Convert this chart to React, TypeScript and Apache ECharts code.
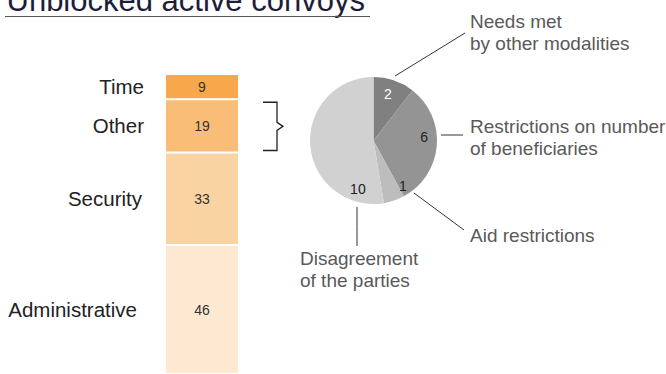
import React, { useEffect, useRef } from "react";
import * as echarts from "echarts";

// ---- data ----
const TITLE = "Unblocked active convoys";
const BAR_CATEGORIES = ["Time", "Other", "Security", "Administrative"];
const BAR_VALUES = [9, 19, 33, 46];
const PIE_NAMES = [
  "Needs met\nby other modalities",
  "Restrictions on number\nof beneficiaries",
  "Aid restrictions",
  "Disagreement\nof the parties",
];
const PIE_VALUES = [2, 6, 1, 10];

// ---- styles / layout ----
const FONT = '"Liberation Sans", Arial, Helvetica, sans-serif';
const BAR_COLORS = ["#f7a84a", "#f9bd78", "#fad3a3", "#fde9d2"];
const BAR_NAME_DISTANCE = [21, 21, 23, 28];
const PIE_COLORS = ["#808080", "#949494", "#bdbdbd", "#d1d1d1"];
const PIE_VALUE_COLORS = ["#ffffff", "#222222", "#222222", "#222222"];
const GRID = { left: 165, top: 74, width: 74, height: 300 };
const PIE_CENTER = [373.5, 140.5];
const PIE_R = 63.5;
const PIE_LABEL_POS = [
  { x: 470, y: 32, va: "middle", line: [[395, 76], [465, 33]] },
  { x: 470, y: 137, va: "middle", line: [[441, 135], [463, 135]] },
  { x: 470, y: 235, va: "middle", line: [[414, 193], [464, 230]] },
  { x: 300, y: 247, va: "top", line: [[357, 207], [357, 246]] },
];
const PIE_VALUE_OFFSETS = [[-3, 4], [-3, -8], [12, -5], [38, 44]];

export default function App() {
  const ref = useRef<HTMLDivElement>(null);

  useEffect(() => {
    if (!ref.current) return;
    const chart = echarts.init(ref.current, null, { renderer: "svg" });
    const total = BAR_VALUES.reduce((a, b) => a + b, 0);
    const order = [3, 2, 1, 0]; // bottom to top

    const valueSeries = order.map((i) => ({
      type: "bar",
      name: BAR_CATEGORIES[i],
      stack: "values",
      data: [BAR_VALUES[i]],
      barWidth: "100%",
      barGap: "-100%",
      silent: true,
      itemStyle: { color: BAR_COLORS[i], borderColor: "#ffffff", borderWidth: 1 },
      label: {
        show: true,
        position: "inside",
        color: "#333333",
        fontSize: 14,
        fontFamily: FONT,
      },
    }));
    const nameSeries = order.map((i) => ({
      type: "bar",
      name: BAR_CATEGORIES[i] + "-name",
      stack: "names",
      data: [BAR_VALUES[i]],
      barWidth: "100%",
      barGap: "-100%",
      silent: true,
      z: 1,
      itemStyle: { color: "rgba(0,0,0,0)" },
      label: {
        show: true,
        position: "left",
        distance: BAR_NAME_DISTANCE[i],
        formatter: BAR_CATEGORIES[i],
        color: "#222222",
        fontSize: 20.5,
        fontFamily: FONT,
      },
    }));

    const pieData = PIE_VALUES.map((v, i) => ({
      value: v,
      name: PIE_NAMES[i],
      itemStyle: { color: PIE_COLORS[i] },
    }));

    chart.setOption({
      animation: false,
      grid: { left: GRID.left, top: GRID.top, width: GRID.width, height: GRID.height },
      xAxis: { type: "category", data: ["convoys"], show: false },
      yAxis: { type: "value", min: 0, max: total, show: false },
      series: [
        ...nameSeries,
        ...valueSeries,
        {
          type: "pie",
          center: PIE_CENTER,
          radius: PIE_R,
          startAngle: 90,
          clockwise: true,
          avoidLabelOverlap: false,
          silent: true,
          data: pieData,
          itemStyle: { borderWidth: 0 },
          label: {
            show: true,
            position: "outside",
            formatter: "{b}",
            color: "#595959",
            fontSize: 19,
            lineHeight: 22,
            fontFamily: FONT,
          },
          labelLine: {
            show: true,
            length: 10,
            length2: 10,
            lineStyle: { color: "#333333", width: 1 },
          },
          labelLayout: (p: any) => {
            const L = PIE_LABEL_POS[p.dataIndex];
            const a = L.line[0];
            const b = L.line[1];
            return {
              x: L.x,
              y: L.y,
              align: "left",
              verticalAlign: L.va,
              labelLinePoints: [a, [(a[0] + b[0]) / 2, (a[1] + b[1]) / 2], b],
            };
          },
        },
        {
          type: "pie",
          center: PIE_CENTER,
          radius: PIE_R * 1.6,
          startAngle: 90,
          clockwise: true,
          avoidLabelOverlap: false,
          silent: true,
          z: 3,
          data: PIE_VALUES.map((v, i) => ({
            value: v,
            name: PIE_NAMES[i],
            label: { offset: PIE_VALUE_OFFSETS[i], color: PIE_VALUE_COLORS[i] },
          })),
          itemStyle: { color: "rgba(0,0,0,0)", borderWidth: 0 },
          label: {
            show: true,
            position: "inside",
            formatter: "{c}",
            fontSize: 14,
            fontFamily: FONT,
          },
          labelLine: { show: false },
        },
      ],
    });

    // brace around "Other" segment, positioned through the axis scale
    const idxOther = 1;
    const below = BAR_VALUES.slice(idxOther + 1).reduce((a, b) => a + b, 0);
    const topV = below + BAR_VALUES[idxOther];
    const yTop = (chart.convertToPixel({ gridIndex: 0 }, [0, topV]) as number[])[1] + 3;
    const yBot = (chart.convertToPixel({ gridIndex: 0 }, [0, below]) as number[])[1] - 2;
    const yMid = (yTop + yBot) / 2;
    const barRight = GRID.left + GRID.width;
    const bx0 = barRight + 24;
    const bx1 = barRight + 38;
    const bTip = barRight + 44;

    chart.setOption({
      graphic: [
        {
          type: "text",
          x: 6.5,
          y: 0,
          style: {
            text: TITLE,
            font: `31px ${FONT}`,
            fill: "#1d1d3a",
            align: "left",
            verticalAlign: "middle",
          },
        },
        {
          type: "line",
          shape: { x1: 5, y1: 16.5, x2: 370, y2: 16.5 },
          style: { stroke: "#555555", lineWidth: 1 },
        },
        {
          type: "polyline",
          shape: {
            points: [
              [bx0, yTop],
              [bx1, yTop],
              [bx1, yMid - 4],
              [bTip, yMid],
              [bx1, yMid + 4],
              [bx1, yBot],
              [bx0, yBot],
            ],
          },
          style: { stroke: "#222222", lineWidth: 1.3, fill: null },
        },
      ],
    });

    return () => chart.dispose();
  }, []);

  return (
    <div
      ref={ref}
      style={{ position: "absolute", left: 0, top: 0, width: 666, height: 374, background: "#ffffff" }}
    />
  );
}
